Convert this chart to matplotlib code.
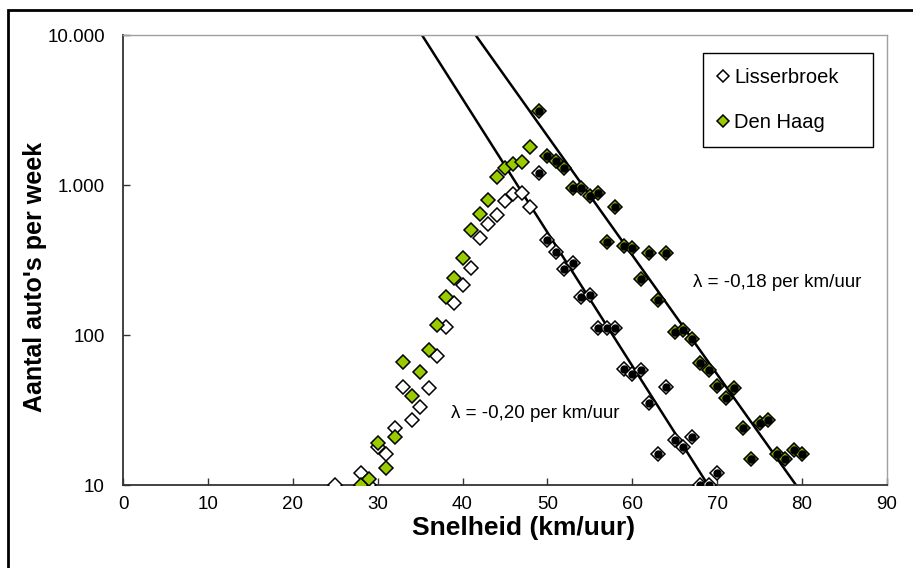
import numpy as np
import matplotlib.pyplot as plt
from matplotlib.patches import Rectangle

plt.rcParams['font.family'] = ['Liberation Sans', 'DejaVu Sans']

# Lisserbroek: rising flank and the points used for the fit
lis_speed_up = [25, 28, 29, 30, 31, 32, 33, 34, 35, 36, 37, 38, 39, 40, 41, 42, 43, 44, 45, 46, 47, 48]
lis_count_up = [10, 12, 10, 18, 16, 24, 45, 27, 33, 44, 73, 113, 163, 215, 278, 440, 550, 630, 785, 870, 880, 710]
lis_speed_fit = [49, 50, 51, 52, 53, 54, 55, 56, 57, 58, 59, 60, 61, 62, 63, 64, 65, 66, 67, 68, 69, 70]
lis_count_fit = [1200, 430, 360, 275, 300, 180, 185, 111, 111, 111, 59, 55, 58, 35, 16, 45, 20, 18, 21, 10, 10, 12]

# Den Haag
dh_speed_up = [28, 29, 30, 31, 32, 33, 34, 35, 36, 37, 38, 39, 40, 41, 42, 43, 44, 45, 46, 47, 48]
dh_count_up = [10, 11, 19, 13, 21, 66, 39, 57, 80, 116, 180, 239, 324, 500, 640, 795, 1136, 1290, 1380, 1430, 1800]
dh_speed_fit = list(range(49, 81))
dh_count_fit = [3100, 1550, 1450, 1300, 950, 950, 850, 880, 420, 710, 390, 380, 235, 350, 170, 350,
                105, 108, 94, 65, 58, 46, 38, 44, 24, 15, 26, 27, 16, 15, 17, 16]

# exponential fits: ln(n) = a - lam * v
lis_a, lis_lam = 16.43, 0.205
dh_a, dh_lam = 16.81, 0.183

green = '#99cc00'

fig = plt.figure(figsize=(9.13, 5.68), dpi=100)
ax = fig.add_axes([123 / 913, 83 / 568, 764 / 913, 450 / 568])

v = np.linspace(20, 90, 300)
ax.plot(v, np.exp(lis_a - lis_lam * v), color='black', lw=1.8, zorder=2)
ax.plot(v, np.exp(dh_a - dh_lam * v), color='black', lw=1.8, zorder=2)

ms = 7.5
ax.plot(lis_speed_up, lis_count_up, 'D', ms=ms, mfc='white', mec='black', mew=1.1, ls='none', zorder=3,
        label='Lisserbroek')
ax.plot(dh_speed_up, dh_count_up, 'D', ms=ms, mfc=green, mec='black', mew=1.1, ls='none', zorder=3,
        label='Den Haag')
ax.plot(lis_speed_fit, lis_count_fit, 'D', ms=ms, mfc='white', mec='black', mew=1.1, ls='none', zorder=3)
ax.plot(lis_speed_fit, lis_count_fit, 'o', ms=5, mfc='black', mec='black', ls='none', zorder=4)
ax.plot(dh_speed_fit, dh_count_fit, 'D', ms=ms, mfc='#7fa800', mec='black', mew=1.1, ls='none', zorder=3)
ax.plot(dh_speed_fit, dh_count_fit, 'o', ms=5, mfc='black', mec='black', ls='none', zorder=4)

ax.set_yscale('log')
ax.set_xlim(0, 90)
ax.set_ylim(10, 10000)
ax.set_xticks(range(0, 91, 10))
ax.set_yticks([10, 100, 1000, 10000])
ax.set_yticklabels(['10', '100', '1.000', '10.000'])
ax.yaxis.set_minor_locator(plt.NullLocator())
ax.tick_params(direction='in', length=5, width=1, labelsize=13.5, color='#333333')
ax.tick_params(axis='x', pad=8)
ax.tick_params(axis='y', pad=13)

for s in ['left', 'bottom']:
    ax.spines[s].set_color('#333333')
    ax.spines[s].set_linewidth(1.3)
for s in ['top', 'right']:
    ax.spines[s].set_color('#a0a0a0')
    ax.spines[s].set_linewidth(1.0)

ax.set_xlabel('Snelheid (km/uur)', fontsize=19, fontweight='bold')
ax.set_ylabel("Aantal auto's per week", fontsize=18, fontweight='bold')
ax.xaxis.set_label_coords(0.524, -0.068)
ax.yaxis.set_label_coords(-0.1, 0.462)

ax.text(0.746, 0.449, '\u03bb = -0,18 per km/uur', transform=ax.transAxes, fontsize=13.5, va='center')
ax.text(0.429, 0.16, '\u03bb = -0,20 per km/uur', transform=ax.transAxes, fontsize=13.5, va='center')

leg = ax.legend(loc='upper left', bbox_to_anchor=(0.759, 0.76, 0.223, 0.2), mode='expand',
                fontsize=14.5, frameon=True, fancybox=False, shadow=False, edgecolor='black',
                framealpha=1, markerscale=0.8, handletextpad=0.3, labelspacing=1.3,
                borderpad=0.75, handlelength=0.5, borderaxespad=0)
leg.get_frame().set_linewidth(1.0)

# outer chart frame
fig.add_artist(Rectangle((8 / 913, -0.1), 1.2, 1.1 - 10 / 568, transform=fig.transFigure,
                         fill=False, edgecolor='black', lw=2))

fig.savefig('out.png', dpi=100)
